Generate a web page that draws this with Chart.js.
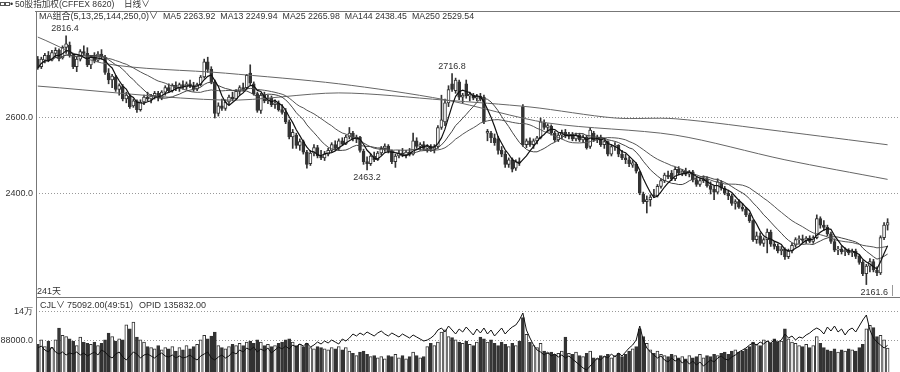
<!DOCTYPE html>
<html>
<head>
<meta charset="utf-8">
<title>50股指加权 日线</title>
<script src="https://cdn.jsdelivr.net/npm/chart.js@4.4.1/dist/chart.umd.min.js"></script>
<style>
  body { margin:0; width:900px; height:372px; overflow:hidden; background:#fff; position:relative;
         font-family:"Liberation Sans", Arial, "Noto Sans CJK SC", sans-serif; font-size:9px; color:#333; }
  .t { position:absolute; white-space:nowrap; line-height:10px; }
  .hl { position:absolute; background:#777; }
  .ic { position:absolute; top:2px; width:3px; height:2px; border:1px solid #555; }
  #maLegend span { margin-right:5px; }
  canvas { position:absolute; left:0; }
</style>
</head>
<body>
<canvas id="priceChart" width="900" height="297" style="top:0"></canvas>
<canvas id="volChart" width="900" height="74" style="top:298px"></canvas>

<div class="hl" style="left:35px;top:11px;width:865px;height:1px"></div>
<div class="hl" style="left:36px;top:11px;width:1px;height:361px"></div>
<div class="hl" style="left:36px;top:297px;width:864px;height:1px"></div>
<div class="hl" style="left:892px;top:285px;width:1px;height:11px;background:#999"></div>

<div class="ic" style="left:0"></div>
<div class="ic" style="left:5px"></div>
<div class="t" style="left:10px;top:-1px">•</div>
<div class="t" style="left:15px;top:-1px;font-size:8.6px">50股指加权(CFFEX 8620)</div>
<div class="t" style="left:124px;top:-1px;font-size:8.6px">日线∨</div>

<div class="t" style="left:39px;top:11px">MA组合(5,13,25,144,250,0)∨</div>
<div class="t" id="maLegend" style="left:163px;top:11px;font-size:8.8px"></div>

<div class="t" style="left:37px;top:286px">241天</div>
<div class="t" style="left:40px;top:300px">CJL∨</div>
<div class="t" style="left:67px;top:300px">75092.00(49:51)</div>
<div class="t" style="left:139px;top:300px">OPID 135832.00</div>

<script>
// daily bars, oldest first (241 days)
const open = [2755,2735,2752,2765,2752,2770,2778,2758,2786,2792, 2765,2735,2755,2775,2770,2740,2760,2752,2768,2760,
  2718,2700,2708,2675,2683,2650,2658,2632,2645,2622, 2642,2655,2650,2658,2665,2652,2668,2680,2672,2686,
  2678,2688,2682,2690,2684,2676,2688,2708,2748,2728, 2695,2612,2632,2625,2642,2655,2650,2670,2680,2680,
  2718,2690,2664,2620,2660,2645,2652,2635,2640,2622, 2615,2590,2550,2555,2528,2538,2510,2480,2508,2522,
  2500,2495,2505,2515,2530,2520,2540,2532,2550,2560, 2545,2550,2512,2485,2480,2500,2490,2508,2520,2526,
  2512,2485,2500,2508,2503,2510,2505,2540,2525,2530, 2520,2525,2518,2525,2575,2590,2640,2690,2672,2695,
  2655,2690,2658,2660,2652,2658,2655,2560,2560,2548, 2545,2515,2505,2478,2490,2468,2485,2630,2530,2540,
  2530,2540,2548,2588,2575,2578,2560,2542,2555,2562, 2552,2558,2545,2555,2542,2550,2525,2560,2542,2550,
  2530,2538,2505,2525,2528,2505,2495,2490,2476,2478, 2458,2400,2380,2385,2398,2395,2420,2435,2450,2455,
  2440,2465,2455,2460,2452,2458,2438,2425,2435,2440, 2422,2412,2405,2430,2415,2402,2395,2375,2380,2365,
  2360,2345,2330,2280,2290,2270,2280,2300,2268,2262, 2250,2255,2235,2250,2265,2280,2282,2278,2284,2275,
  2285,2335,2318,2312,2295,2275,2252,2255,2248,2252, 2245,2250,2236,2220,2190,2210,2222,2200,2192,2285,
  2318];
const high = [2762,2760,2770,2775,2778,2785,2782,2790,2816.4,2800, 2770,2760,2780,2790,2785,2765,2772,2775,2780,2765,
  2730,2715,2712,2690,2688,2668,2662,2650,2648,2648, 2660,2668,2662,2670,2670,2672,2685,2690,2690,2695,
  2692,2698,2695,2700,2694,2692,2712,2755,2760,2735, 2700,2640,2650,2648,2660,2668,2675,2685,2692,2715,
  2740,2695,2668,2665,2668,2660,2658,2648,2645,2635, 2625,2595,2570,2560,2545,2542,2515,2515,2530,2528,
  2515,2512,2520,2535,2540,2545,2548,2555,2575,2565, 2555,2552,2518,2498,2505,2510,2512,2525,2532,2530,
  2516,2505,2515,2520,2515,2520,2560,2548,2535,2538, 2530,2530,2530,2580,2660,2650,2685,2716.8,2705,2700,
  2665,2700,2668,2665,2662,2665,2660,2570,2565,2558, 2552,2525,2512,2495,2495,2490,2495,2635,2545,2548,
  2545,2552,2600,2595,2585,2582,2565,2560,2568,2570, 2562,2562,2560,2560,2556,2555,2575,2565,2555,2555,
  2542,2540,2530,2535,2530,2515,2505,2498,2488,2482, 2460,2405,2395,2398,2412,2425,2440,2455,2460,2462,
  2470,2472,2465,2468,2462,2462,2445,2440,2448,2445, 2432,2420,2440,2435,2420,2410,2400,2385,2385,2375,
  2365,2350,2332,2300,2298,2285,2308,2305,2275,2268, 2262,2258,2255,2270,2285,2290,2292,2288,2290,2290,
  2345,2340,2330,2318,2300,2282,2262,2262,2258,2256, 2255,2255,2240,2225,2215,2230,2228,2208,2290,2325,
  2335];
const low = [2728,2730,2745,2748,2750,2760,2750,2755,2770,2760, 2730,2722,2750,2765,2735,2730,2745,2748,2755,2715,
  2690,2680,2670,2660,2645,2640,2625,2628,2615,2618, 2635,2645,2640,2650,2645,2648,2660,2668,2668,2672,
  2670,2676,2675,2680,2670,2672,2684,2705,2720,2690, 2600,2605,2620,2620,2635,2645,2648,2662,2672,2676,
  2688,2660,2615,2612,2640,2638,2630,2625,2618,2610, 2585,2545,2520,2520,2515,2505,2468,2475,2500,2495,
  2490,2488,2500,2510,2515,2515,2528,2530,2545,2540, 2535,2510,2478,2463.2,2475,2485,2488,2502,2512,2508,
  2480,2470,2495,2498,2495,2500,2502,2520,2515,2515, 2510,2512,2508,2520,2570,2580,2630,2670,2665,2648,
  2640,2652,2645,2648,2645,2645,2585,2540,2535,2528, 2505,2498,2470,2470,2458,2462,2475,2525,2522,2525,
  2520,2532,2545,2570,2562,2555,2538,2538,2545,2548, 2545,2540,2540,2538,2535,2518,2520,2538,2535,2525,
  2520,2500,2500,2515,2498,2490,2480,2472,2470,2455, 2398,2375,2350,2368,2390,2392,2415,2430,2440,2435,
  2435,2450,2448,2448,2445,2432,2420,2420,2430,2418, 2400,2385,2400,2410,2398,2385,2370,2360,2362,2355,
  2340,2325,2275,2270,2265,2262,2245,2262,2255,2245, 2240,2228,2230,2245,2260,2270,2272,2270,2272,2270,
  2282,2310,2305,2290,2270,2248,2240,2242,2238,2240, 2235,2230,2215,2185,2161.6,2195,2195,2185,2188,2280,
  2305];
const close = [2732,2755,2765,2752,2772,2778,2756,2786,2795,2765, 2735,2755,2775,2770,2740,2760,2750,2768,2760,2720,
  2700,2710,2675,2685,2650,2660,2630,2645,2622,2642, 2655,2650,2658,2665,2652,2668,2680,2672,2686,2678,
  2688,2682,2690,2684,2676,2688,2708,2748,2728,2695, 2612,2632,2625,2642,2655,2650,2670,2680,2675,2712,
  2692,2664,2620,2660,2645,2652,2635,2640,2622,2615, 2590,2550,2562,2528,2538,2510,2478,2508,2522,2500,
  2495,2505,2515,2530,2520,2540,2532,2550,2560,2545, 2550,2515,2485,2480,2500,2490,2508,2520,2526,2512,
  2485,2500,2508,2503,2510,2505,2540,2525,2530,2520, 2525,2518,2525,2575,2595,2640,2675,2675,2700,2655,
  2660,2658,2662,2652,2658,2650,2590,2565,2548,2535, 2515,2505,2478,2490,2465,2485,2482,2530,2540,2530,
  2540,2548,2590,2575,2580,2560,2542,2555,2562,2552, 2558,2545,2555,2542,2550,2522,2568,2542,2550,2530,
  2538,2505,2525,2528,2505,2495,2490,2480,2482,2460, 2402,2380,2385,2392,2395,2420,2435,2450,2445,2440,
  2465,2455,2460,2452,2458,2438,2425,2435,2440,2422, 2412,2405,2432,2415,2402,2395,2375,2380,2365,2360,
  2345,2330,2280,2290,2270,2280,2300,2268,2262,2250, 2255,2235,2250,2265,2280,2282,2278,2284,2275,2285,
  2335,2318,2312,2295,2275,2252,2255,2248,2252,2245, 2250,2236,2220,2190,2210,2222,2200,2192,2285,2318,
  2325];

// CJL (volume) and OPID (open interest)
const volume = [82000,90000,78000,88000,76000,90000,111000,98000,96000,92000, 88000,80000,95000,86000,84000,82000,86000,80000,84000,90000,
  102000,96000,88000,92000,90000,117000,110000,122000,95000,90000, 86000,78000,76000,74000,80000,72000,76000,74000,78000,70000,
  76000,72000,80000,74000,78000,82000,90000,98000,92000,97000, 104000,80000,76000,74000,78000,82000,80000,84000,80000,86000,
  88000,84000,90000,86000,80000,82000,78000,80000,84000,86000, 90000,92000,86000,80000,82000,78000,84000,76000,74000,78000,
  76000,74000,72000,76000,74000,78000,72000,76000,70000,66000, 62000,68000,70000,64000,60000,62000,58000,60000,56000,62000,
  60000,64000,58000,62000,56000,60000,68000,62000,58000,60000, 78000,84000,80000,86000,104000,108000,96000,94000,90000,86000,
  84000,88000,82000,80000,86000,95000,92000,86000,90000,84000, 80000,86000,82000,78000,84000,80000,88000,130000,100000,86000,
  80000,76000,84000,70000,66000,68000,64000,66000,70000,95000, 66000,64000,68000,62000,60000,66000,70000,58000,56000,62000,
  60000,64000,58000,62000,66000,60000,64000,70000,74000,78000, 110000,96000,84000,72000,66000,70000,64000,62000,60000,64000,
  62000,58000,60000,56000,62000,58000,60000,64000,58000,62000, 60000,64000,62000,66000,68000,64000,70000,72000,68000,70000,
  74000,78000,86000,82000,80000,90000,88000,84000,92000,86000, 88000,110000,92000,86000,84000,80000,78000,82000,76000,80000,
  96000,84000,76000,72000,70000,74000,68000,72000,70000,74000, 72000,70000,76000,82000,110000,116000,112000,96000,98000,90000,
  75092];
const opid = [134500,135500,133500,132500,135000,132500,131500,132500,131000,132000, 131500,132500,131000,132000,130500,131500,132500,131000,133500,132500,
  130500,129500,131500,132500,130000,128500,130500,132500,131500,129500, 131000,131500,130500,129500,131000,132000,130500,130000,131000,129500,
  130500,129500,130000,131000,129500,128500,130500,131500,132500,129500, 128500,130000,131000,129500,130500,132500,131500,133500,132500,134500,
  133500,135000,132500,134000,133000,134500,132000,133500,135000,134000, 135500,134000,136000,135000,136500,135500,137000,135000,136000,137500,
  136500,138000,137000,138500,137500,136500,139000,138000,139500,141500, 140500,142000,141000,142500,141500,140500,142000,143000,141500,140500,
  142000,141000,140000,141500,140500,139500,141000,140000,139000,138000, 138500,139500,141000,143500,144500,142500,145500,143500,141500,144000,
  142500,145000,143000,141000,144000,142000,144500,141500,143500,140500, 142500,144500,141500,143500,145000,146000,148500,152000,143500,139500,
  136000,133500,132500,131000,132500,130500,131500,130000,131000,129500, 130500,129000,127500,126000,124500,123500,125500,127500,129500,128500,
  130500,129500,131500,130000,132000,130500,132500,134500,136000,138500, 145500,138500,134500,132500,131000,129500,130500,128500,127500,129500,
  128000,129000,127000,128500,126500,128000,126000,127500,125500,127000, 128500,127500,129500,130500,129000,128500,130000,131000,132500,133500,
  134500,136000,137000,136000,137500,136500,138000,137000,138500,137500, 138500,141500,139500,140500,138500,140000,139500,141000,142000,143500,
  144500,143500,141500,145000,143000,145500,142500,144000,141000,143500, 144500,142500,145500,148500,151000,143500,139500,137500,136000,134500,
  135832];

// long averages: [day index, value]
const ma144Pts = [[0,2813],[18,2745],[53,2718],[85,2690],[115,2648],[144,2587],[180,2555],[211,2490],[240,2438.45]];
const ma250Pts = [[0,2684],[53,2647],[85,2666],[115,2647],[139,2629],[163,2600],[180,2598],[210,2565],[240,2529.54]];

const priceTicks = [2400, 2600];
const volTicks = [88000, 140000];
const volTickLabels = ['88000.0', '14万'];
const maLegend = [['MA5', '2263.92'], ['MA13', '2249.94'], ['MA25', '2265.98'], ['MA144', '2438.45'], ['MA250', '2529.54']];
const peakMarks = [
  { i: 8, kind: 'high', dx: -1 },
  { i: 117, kind: 'high', dx: 0 },
  { i: 93, kind: 'low', dx: 0 },
  { i: 234, kind: 'low', dx: 8 }
];

// legend text row
const legendBox = document.getElementById('maLegend');
maLegend.forEach(m => {
  const s = document.createElement('span');
  s.textContent = m[0] + ' ' + m[1];
  legendBox.appendChild(s);
});

const INK = '#333';
const isUp = open.map((o, i) => close[i] >= o);
const fill = isUp.map(u => u ? '#fff' : INK);

function movingAverage(n) {
  return close.map((_, i) => {
    const win = close.slice(Math.max(0, i - n + 1), i + 1);
    return { x: i, y: win.reduce((a, b) => a + b, 0) / win.length };
  });
}

const xScale = { type: 'linear', min: -0.5, max: 243.5, display: false, offset: false };

const peakLabels = {
  id: 'peakLabels',
  afterDatasetsDraw(chart) {
    const { ctx, scales: { x, y } } = chart;
    ctx.save();
    ctx.font = '9px "Liberation Sans", Arial';
    ctx.fillStyle = INK;
    ctx.textAlign = 'center';
    ctx.textBaseline = 'alphabetic';
    peakMarks.forEach(m => {
      const v = m.kind === 'high' ? high[m.i] : low[m.i];
      const px = x.getPixelForValue(m.i);
      const py = y.getPixelForValue(v);
      ctx.fillText(v.toFixed(1), px + m.dx, m.kind === 'high' ? py - 5 : py + 10);
    });
    ctx.restore();
  }
};

new Chart(document.getElementById('priceChart'), {
  type: 'bar',
  data: {
    datasets: [
      { type: 'line', data: movingAverage(5), borderColor: '#111', borderWidth: 1.2, pointRadius: 0, order: 0 },
      { type: 'line', data: movingAverage(13), borderColor: '#444', borderWidth: 1, pointRadius: 0, order: 0 },
      { type: 'line', data: movingAverage(25), borderColor: '#555', borderWidth: 1, pointRadius: 0, order: 0 },
      { type: 'line', data: ma144Pts.map(p => ({ x: p[0], y: p[1] })), borderColor: '#666', borderWidth: 1, pointRadius: 0, tension: 0.3, order: 0 },
      { type: 'line', data: ma250Pts.map(p => ({ x: p[0], y: p[1] })), borderColor: '#666', borderWidth: 1, pointRadius: 0, tension: 0.3, order: 0 },
      { data: open.map((o, i) => ({ x: i, y: [o, close[i]] })), backgroundColor: fill, borderColor: INK,
        borderWidth: 1, borderSkipped: false, barThickness: 3, minBarLength: 1, grouped: false, order: 1 },
      { data: low.map((l, i) => ({ x: i, y: [l, high[i]] })), backgroundColor: INK,
        borderWidth: 0, barThickness: 1, grouped: false, order: 2 }
    ]
  },
  options: {
    responsive: false,
    animation: false,
    events: [],
    layout: { padding: { top: 11, right: 0, bottom: 0, left: 0 } },
    plugins: { legend: { display: false }, tooltip: { enabled: false } },
    scales: {
      x: xScale,
      y: {
        position: 'left',
        min: 2128.9,
        max: 2881.6,
        afterFit: s => { s.width = 36; s.paddingTop = 0; s.paddingBottom = 0; },
        afterBuildTicks: s => { s.ticks = priceTicks.map(v => ({ value: v })); },
        ticks: { callback: v => v.toFixed(1), color: INK, font: { size: 9, family: '"Liberation Sans", Arial' }, padding: 3 },
        grid: { color: '#999', lineWidth: 1, drawTicks: false },
        border: { display: false, dash: [1, 2] }
      }
    }
  },
  plugins: [peakLabels]
});

new Chart(document.getElementById('volChart'), {
  type: 'bar',
  data: {
    datasets: [
      { type: 'line', data: opid.map((v, i) => ({ x: i, y: v })), yAxisID: 'oi', borderColor: '#111',
        borderWidth: 1, pointRadius: 0, order: 0 },
      { data: volume.map((v, i) => ({ x: i, y: v })), backgroundColor: fill, borderColor: INK,
        borderWidth: 1, barThickness: 3, grouped: false, order: 1 }
    ]
  },
  options: {
    responsive: false,
    animation: false,
    events: [],
    layout: { padding: 0 },
    plugins: { legend: { display: false }, tooltip: { enabled: false } },
    scales: {
      x: xScale,
      y: {
        position: 'left',
        min: 32400,
        max: 165100,
        afterFit: s => { s.width = 36; s.paddingTop = 0; s.paddingBottom = 0; },
        afterBuildTicks: s => { s.ticks = volTicks.map(v => ({ value: v })); },
        ticks: { callback: v => volTickLabels[volTicks.indexOf(v)], color: INK, font: { size: 9, family: '"Liberation Sans", Arial' }, padding: 3 },
        grid: { color: '#999', lineWidth: 1, drawTicks: false },
        border: { display: false, dash: [1, 2] }
      },
      oi: { type: 'linear', display: false, min: 122500, max: 159500 }
    }
  }
});
</script>
</body>
</html>
